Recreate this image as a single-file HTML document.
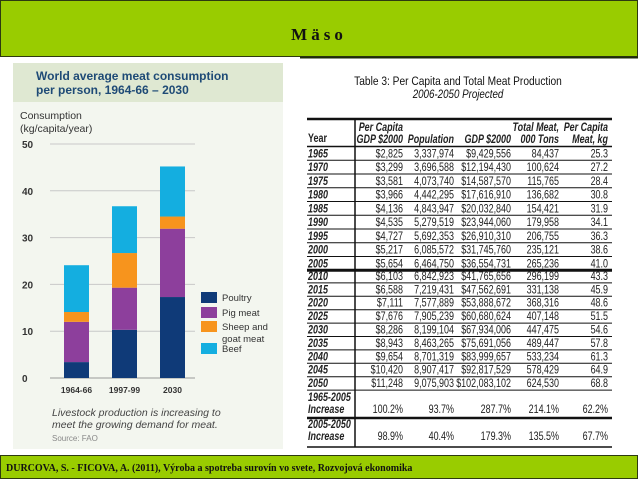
<!DOCTYPE html>
<html><head><meta charset="utf-8"><style>
html,body{margin:0;padding:0;background:#fff;}
svg{display:block;}
.n{font-family:"Liberation Sans",sans-serif;}
</style></head><body>
<svg id="s" width="638" height="479" viewBox="0 0 638 479" xmlns="http://www.w3.org/2000/svg">
<rect x="0.5" y="0.5" width="637" height="56" fill="#99cc00" stroke="#2d3a10"/>
<line x1="300" y1="57.5" x2="638" y2="57.5" stroke="#1e2a08" stroke-width="2"/>
<text x="319" y="40" text-anchor="middle" font-family="Liberation Serif,serif" font-weight="bold" font-size="17" fill="#111" letter-spacing="4">Mäso</text>

<g>
<rect x="13" y="63" width="270" height="386" fill="#f3f6ef"/>
<rect x="13" y="63" width="270" height="39" fill="#dfe8d2"/>
<text x="36" y="80" font-family="Liberation Sans,sans-serif" font-weight="bold" font-size="12" fill="#1e4a76">World average meat consumption</text>
<text x="36" y="94" font-family="Liberation Sans,sans-serif" font-weight="bold" font-size="12" fill="#1e4a76">per person, 1964-66 – 2030</text>
<text x="20" y="119" font-family="Liberation Sans,sans-serif" font-size="10.5" fill="#333">Consumption</text>
<text x="20" y="132" font-family="Liberation Sans,sans-serif" font-size="10.5" fill="#333">(kg/capita/year)</text>
<g id="chart"></g>
<text x="52" y="416" font-family="Liberation Sans,sans-serif" font-style="italic" font-size="10.5" fill="#444">Livestock production is increasing to</text>
<text x="52" y="428" font-family="Liberation Sans,sans-serif" font-style="italic" font-size="10.5" fill="#444">meet the growing demand for meat.</text>
<text x="52" y="441" font-family="Liberation Sans,sans-serif" font-size="8" fill="#888">Source: FAO</text>
</g>

<g>
<g transform="translate(458,85) scale(0.85,1)"><text x="0" y="0" text-anchor="middle" class="n" font-size="12" fill="#111">Table 3: Per Capita and Total Meat Production</text></g>
<g transform="translate(458,98) scale(0.85,1)"><text x="0" y="0" text-anchor="middle" class="n" font-style="italic" font-size="11.5" fill="#111">2006-2050 Projected</text></g>
<g id="tbl"></g>
</g>

<rect x="0.5" y="455.5" width="637" height="23" fill="#99cc00" stroke="#2d3a10"/>
<text x="6" y="471" font-family="Liberation Serif,serif" font-weight="bold" font-size="10" fill="#111">DURCOVA, S. - FICOVA, A. (2011),  Výroba a spotreba surovín vo svete, Rozvojová ekonomika</text>
</svg>
<script>
const categories=["1964-66","1997-99","2030"];
const poultry=[3.4,10.3,17.3];
const pig=[8.6,9.0,14.6];
const sheep=[2.1,7.4,2.6];
const beef=[10.0,10.0,10.7];
const yTicks=[0,10,20,30,40,50];
const seriesNames=["Poultry","Pig meat","Sheep and goat meat","Beef"];

const years=["1965","1970","1975","1980","1985","1990","1995","2000","2005","2010","2015","2020","2025","2030","2035","2040","2045","2050"];
const gdpPc=["$2,825","$3,299","$3,581","$3,966","$4,136","$4,535","$4,727","$5,217","$5,654","$6,103","$6,588","$7,111","$7,676","$8,286","$8,943","$9,654","$10,420","$11,248"];
const population=["3,337,974","3,696,588","4,073,740","4,442,295","4,843,947","5,279,519","5,692,353","6,085,572","6,464,750","6,842,923","7,219,431","7,577,889","7,905,239","8,199,104","8,463,265","8,701,319","8,907,417","9,075,903"];
const gdp=["$9,429,556","$12,194,430","$14,587,570","$17,616,910","$20,032,840","$23,944,060","$26,910,310","$31,745,760","$36,554,731","$41,765,656","$47,562,691","$53,888,672","$60,680,624","$67,934,006","$75,691,056","$83,999,657","$92,817,529","$102,083,102"];
const totalMeat=["84,437","100,624","115,765","136,682","154,421","179,958","206,755","235,121","265,236","296,199","331,138","368,316","407,148","447,475","489,447","533,234","578,429","624,530"];
const meatPc=["25.3","27.2","28.4","30.8","31.9","34.1","36.3","38.6","41.0","43.3","45.9","48.6","51.5","54.6","57.8","61.3","64.9","68.8"];
const inc1=["100.2%","93.7%","287.7%","214.1%","62.2%"];
const inc2=["98.9%","40.4%","179.3%","135.5%","67.7%"];

const NS="http://www.w3.org/2000/svg";
function mk(p,tag,a){const e=document.createElementNS(NS,tag);for(const k in a)e.setAttribute(k,a[k]);p.appendChild(e);return e;}
const g=document.getElementById('chart');
const y0=378,pxPer=234/50;
const yS=v=>y0-v*pxPer;
const xS=i=>64+i*48;
const barW=25;
yTicks.forEach(t=>{
  const l=mk(g,'line',{x1:50,x2:195,y1:yS(t),y2:yS(t),stroke:t===0?'#999':'#c8c8c8','stroke-width':1});
  
  
  const tx=mk(g,'text',{x:22,y:yS(t)+4,'font-family':'Liberation Sans,sans-serif','font-weight':'bold','font-size':10,fill:'#333'});
  tx.textContent=t;
  
  
});
const series=[poultry,pig,sheep,beef];
const colors=['#0f3a78','#8d3f9c','#f7941d','#14aee0'];
const keys=['poultry','pig','sheep','beef'];
categories.forEach((c,i)=>{
  let acc=0;
  series.forEach((s,k)=>{
    const r=mk(g,'rect',{x:xS(i),y:yS(acc+s[i]),width:barW,height:s[i]*pxPer,fill:colors[k]});
    
    
    acc+=s[i];
  });
  const t=mk(g,'text',{x:xS(i)+barW/2,y:393,'text-anchor':'middle','font-family':'Liberation Sans,sans-serif','font-weight':'bold','font-size':8.5,fill:'#333'});
  t.textContent=c;
  
  
});
const legY=[292,307,321,343];
seriesNames.forEach((n,k)=>{
  const r=mk(g,'rect',{x:201,y:legY[k],width:16,height:11,fill:colors[k]});
  
  
  const parts=k===2?['Sheep and','goat meat']:[n];
  parts.forEach((p,j)=>{
    const t=mk(g,'text',{x:222,y:legY[k]+9+j*12,'font-family':'Liberation Sans,sans-serif','font-size':9.5,fill:'#333'});
    t.textContent=p;
    
    
  });
});

const T=document.getElementById('tbl');
const L=307,R=612,colR=[403,454,511,559,608];
function ln(y,w,name){const l=mk(T,'line',{x1:L,x2:R,y1:y,y2:y,stroke:'#111','stroke-width':w});}
function tx(x,y,s,anchor,it,name,bold){
  const gg=mk(T,'g',{transform:'translate('+x+','+y+') scale(0.78,1)'});
  const t=mk(gg,'text',{x:0,y:0,'text-anchor':anchor,class:'n','font-size':11.5,fill:'#222'});
  if(it)t.setAttribute('font-style','italic');
  if(bold)t.setAttribute('font-weight','bold');
  t.textContent=s;
  
  
  return t;}
ln(119,2.5,'table-top-rule');
tx(L+1,142,'Year','start',false,'header-year',true);
tx(colR[0],131,'Per Capita','end',true,'header-gdp-pc-1',true);
tx(colR[0],143,'GDP $2000','end',true,'header-gdp-pc-2',true);
tx(colR[1],143,'Population','end',true,'header-population',true);
tx(colR[2],143,'GDP $2000','end',true,'header-gdp',true);
tx(colR[3],131,'Total Meat,','end',true,'header-total-meat-1',true);
tx(colR[3],143,'000 Tons','end',true,'header-total-meat-2',true);
tx(colR[4],131,'Per Capita','end',true,'header-meat-pc-1',true);
tx(colR[4],143,'Meat, kg','end',true,'header-meat-pc-2',true);
ln(146.5,1.5,'header-rule');
const cols=[gdpPc,population,gdp,totalMeat,meatPc];
years.forEach((yr,i)=>{
  const top=i<9?146.5+i*13.75:269.5+(i-9)*13.4;
  const h=i<9?13.75:13.4;
  const base=top+h-3;
  tx(L+1,base,yr,'start',true,'year-'+yr,true);
  cols.forEach((c,j)=>tx(colR[j],base,c[i],'end',false,'cell-'+yr+'-'+j));
  if(i===8){ln(top+h,3,'separator-2005');}
  else ln(top+h,1,'row-rule-'+yr);
});
tx(L+1,401,'1965-2005','start',true,'increase1-label1',true);
tx(L+1,413,'Increase','start',true,'increase1-label2',true);
inc1.forEach((v,j)=>tx(colR[j],413,v,'end',false,'increase1-'+j));
ln(418,2.5,'increase-separator');
tx(L+1,428,'2005-2050','start',true,'increase2-label1',true);
tx(L+1,440,'Increase','start',true,'increase2-label2',true);
inc2.forEach((v,j)=>tx(colR[j],440,v,'end',false,'increase2-'+j));
ln(447,1.5,'table-bottom-rule');
const v=mk(T,'line',{x1:355,x2:355,y1:119,y2:447,stroke:'#111','stroke-width':1.5});


</script>
</body></html>
